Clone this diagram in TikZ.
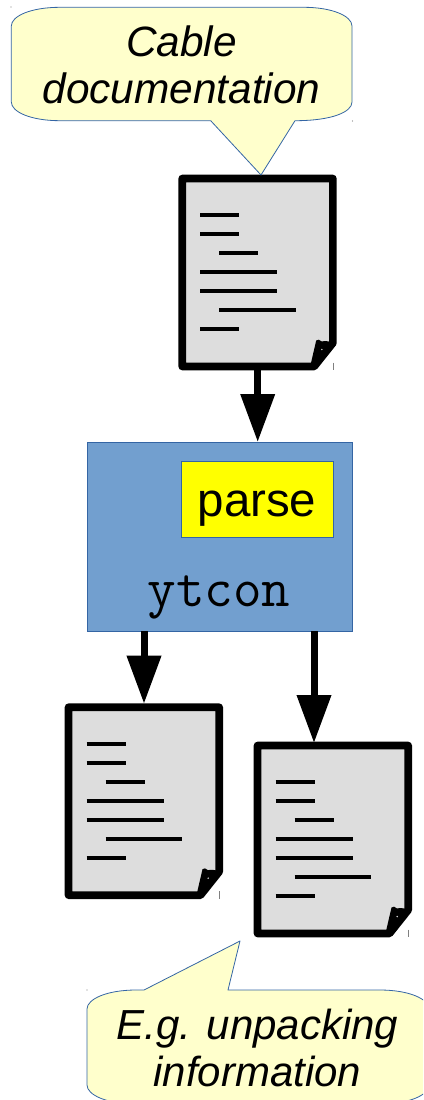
\documentclass[tikz,border=0pt]{standalone}
\usepackage{fontspec}
\setmainfont{Liberation Sans}
\usetikzlibrary{arrows.meta}
\definecolor{calloutfill}{HTML}{FFFFCC}
\definecolor{bluefill}{HTML}{729FCF}
\definecolor{blueline}{HTML}{3465A4}
\definecolor{docfill}{HTML}{DDDDDD}
\definecolor{tagfill}{HTML}{FFFF00}
\tikzset{
  calloutshape/.style={fill=calloutfill,draw=blueline,line width=0.8pt,line join=round},
  callouttext/.style={font=\fontsize{42.4}{47}\selectfont\itshape,align=center,inner sep=0pt},
  callouttextb/.style={font=\fontsize{42}{47}\selectfont\itshape,align=center,inner sep=0pt},
  docframe/.style={minimum width=157pt,minimum height=195pt,inner sep=0pt,outer sep=0pt},
  docpage/.style={fill=docfill,draw=black,line width=7.6pt,line join=round},
  docline/.style={draw=black,line width=3.6pt},
  flow/.style={draw=black,line width=7pt,-{Triangle[length=48pt,width=33pt]}},
  mainbox/.style={fill=bluefill,draw=blueline,line width=0.6pt,minimum width=265pt,minimum height=189pt,inner sep=0pt,outer sep=0pt},
  tagbox/.style={fill=tagfill,draw=blueline,line width=0.6pt,minimum width=152pt,minimum height=76pt,inner sep=0pt},
  tagtext/.style={font=\fontsize{47.5}{50}\selectfont,inner sep=0pt,anchor=base},
  codetext/.style={font=\fontsize{55.5}{58}\selectfont\ttfamily\addfontfeature{FakeBold=1.3},inner sep=0pt,anchor=base},
  speck/.style={fill=gray,draw=none}
}
\newcommand{\docpic}[3]{%
  \node[docframe] (#1) at (#2,#3) {};
  \begin{scope}[shift={(#2,#3)}]
    \path[docpage] (-75.5,-94) -- (75.2,-94) -- (75.2,70.5) -- (56.5,94) -- (-75.5,94) -- cycle;
    \fill[black] (58.5,68) .. controls (60,66.5) and (62,67) .. (64,69) .. controls (67,68) and (72,69) .. (75,70) -- (78,70) -- (57,97) -- (52,96) -- cycle;
    \fill[docfill] (64.2,77) circle (0.8);
    \draw[gray,line width=1pt] (75.5,90) -- (75.5,97.5);
    \draw[docline] (-57.5,-57.5) -- (-18.5,-57.5);
    \draw[docline] (-57.5,-38.5) -- (-18.5,-38.5);
    \draw[docline] (-38.5,-19.5) -- (0.5,-19.5);
    \draw[docline] (-57.5,-0.5) -- (19.5,-0.5);
    \draw[docline] (-57.5,18.5) -- (19.5,18.5);
    \draw[docline] (-38.5,37.5) -- (38,37.5);
    \draw[docline] (-57.5,56.5) -- (-18.5,56.5);
  \end{scope}%
}
\begin{document}
\begin{tikzpicture}[x=1pt,y=-1pt]
  \useasboundingbox (0,0) rectangle (423,1100);
  \clip (0,0) rectangle (423,1100);
  % documents
  \docpic{doc1}{257.7}{272.5}
  \docpic{doc2}{144}{801.2}
  \docpic{doc3}{333}{839.5}
  % top callout
  \path[calloutshape] (60,7.3) -- (304,7.3) .. controls (332,7.3) and (352,16) .. (352,26)
    -- (352,102) .. controls (352,112) and (332,120.7) .. (295,120.7)
    -- (261,175) -- (210.7,120.7) -- (60,120.7)
    .. controls (31,120.7) and (11.3,112) .. (11.3,102) -- (11.3,26)
    .. controls (11.3,16) and (31,7.3) .. (60,7.3) -- cycle;
  \node[callouttext] (cap1) at (181.5,65) {Cable\\documentation};
  \fill[speck] (11,7) circle (0.6);
  \fill[speck] (352.5,121) circle (0.6);
  % main box
  \node[mainbox] (ytcon) at (219.5,536.5) {};
  \node[tagbox] (parse) at (257,499) {};
  \node[tagtext] (parselabel) at (257,516) {parse};
  \node[codetext] (code) at (219,606) {ytcon};
  % bottom callout
  \path[calloutshape] (136,990) -- (144,990) -- (240,941) -- (228,990) -- (380,990)
    .. controls (409,990) and (429,999) .. (429,1009) -- (429,1085)
    .. controls (429,1095) and (409,1104) .. (380,1104) -- (136,1104)
    .. controls (107,1104) and (87,1095) .. (87,1085) -- (87,1009)
    .. controls (87,999) and (107,990) .. (136,990) -- cycle;
  \node[callouttextb] (cap2) at (257.5,1048) {E.g. unpacking\\information};
  \fill[speck] (87,990) circle (0.6);
  % connectors
  \coordinate (drop) at (314,743);
  \draw[flow] (doc1.south) -- (doc1.south |- ytcon.north);
  \draw[flow] (ytcon.south -| doc2.north) -- (doc2.north);
  \draw[flow] (ytcon.south -| drop) -- (drop);
\end{tikzpicture}
\end{document}
